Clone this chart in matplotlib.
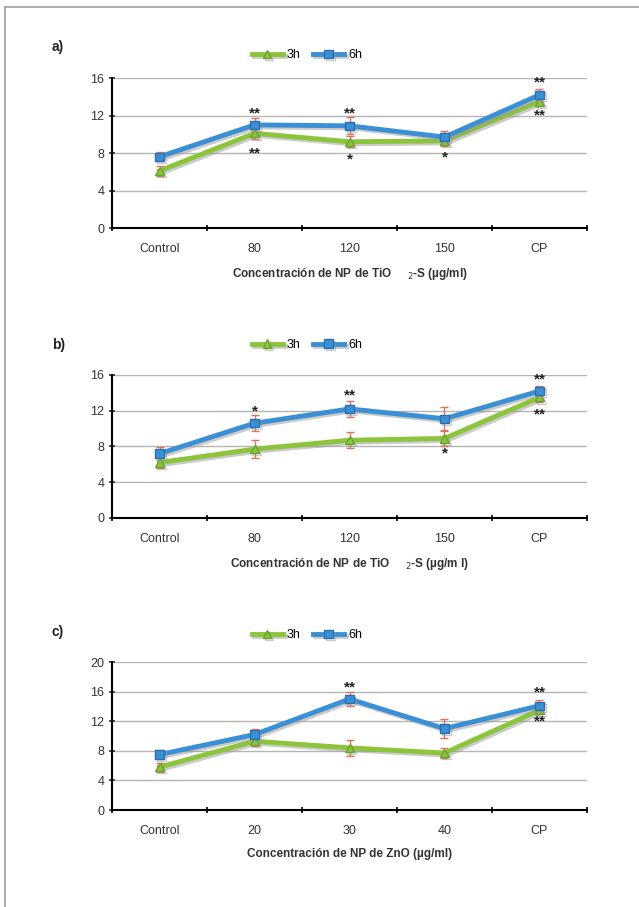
import matplotlib
matplotlib.use("Agg")
import matplotlib.pyplot as plt
import matplotlib.patheffects as pe
from matplotlib.lines import Line2D

plt.rcParams['font.family'] = ['Liberation Sans', 'DejaVu Sans']

# panel a) TiO2-S, first assay
cats_a = ["Control", "80", "120", "150", "CP"]
h3_a = [6.1, 10.1, 9.2, 9.3, 13.5]
h6_a = [7.6, 11.0, 10.9, 9.7, 14.2]
err3_a = [0.5, 0.6, 0.6, 0.5, 0.5]
err6_a = [0.5, 0.7, 0.9, 0.7, 0.6]
stars_a = [(1, 12.6, "**"), (1, 8.4, "**"), (2, 12.6, "**"), (2, 7.7, "*"),
           (3, 7.9, "*"), (4, 15.9, "**"), (4, 12.4, "**")]

# panel b) TiO2-S, second assay
cats_b = ["Control", "80", "120", "150", "CP"]
h3_b = [6.2, 7.7, 8.7, 8.9, 13.5]
h6_b = [7.2, 10.6, 12.2, 11.1, 14.2]
err3_b = [0.6, 1.0, 0.9, 0.8, 0.5]
err6_b = [0.7, 0.9, 0.9, 1.3, 0.6]
stars_b = [(1, 12.3, "*"), (2, 14.1, "**"), (3, 7.6, "*"),
           (4, 15.9, "**"), (4, 12.0, "**")]

# panel c) ZnO
cats_c = ["Control", "20", "30", "40", "CP"]
h3_c = [5.8, 9.3, 8.4, 7.7, 13.5]
h6_c = [7.5, 10.2, 15.0, 11.0, 14.1]
err3_c = [0.6, 0.6, 1.1, 0.7, 0.5]
err6_c = [0.6, 0.7, 1.0, 1.3, 0.8]
stars_c = [(2, 17.0, "**"), (4, 16.3, "**"), (4, 12.3, "**")]

green = "#8cc43c"
blue = "#3b8fd4"
errc = "#e0735f"

fig = plt.figure(figsize=(6.39, 9.07), dpi=100)

# page frame
fig.add_artist(Line2D([5 / 639, 5 / 639], [0, 1 - 7 / 907], color="#a0a0a0", lw=1.2))
fig.add_artist(Line2D([5 / 639, 1], [1 - 7 / 907, 1 - 7 / 907], color="#a0a0a0", lw=1.2))

shadow = [pe.SimpleLineShadow(offset=(1.5, -1.5), shadow_color="#999999", alpha=0.5), pe.Normal()]


def panel(rect, cats, h3, h6, e3, e6, stars, ymax, label, xlabel, leg_y, lab_y):
    ax = fig.add_axes(rect)
    x = list(range(len(cats)))
    ax.errorbar(x, h3, yerr=e3, fmt="none", ecolor=errc, capsize=3, lw=1, zorder=2)
    ax.errorbar(x, h6, yerr=e6, fmt="none", ecolor=errc, capsize=3, lw=1, zorder=2)
    ax.plot(x, h3, color=green, lw=3.5, marker="^", ms=6, mfc=green, mec="#6aa42a",
            label="3h", zorder=3, path_effects=shadow)
    ax.plot(x, h6, color=blue, lw=3.5, marker="s", ms=6, mfc=blue, mec="#2a70b0",
            label="6h", zorder=4, path_effects=shadow)
    for xi, yi, s in stars:
        ax.text(xi, yi - 0.4, s, ha="center", va="center", fontsize=11, fontweight="bold",
                color="#222222")
    ax.set_xlim(-0.5, len(cats) - 0.5)
    ax.set_ylim(0, ymax)
    ax.set_yticks(range(0, ymax + 1, 4))
    ax.set_xticks(x)
    ax.set_xticklabels(cats)
    ax.set_xticks([i - 0.5 for i in range(len(cats) + 1)], minor=True)
    ax.tick_params(axis="x", which="major", length=0, pad=11, labelsize=9, colors="#333333")
    ax.tick_params(axis="x", which="minor", length=4, direction="inout", width=1.2)
    ax.tick_params(axis="y", length=4, direction="inout", width=1.2, labelsize=9, colors="#333333")
    ax.grid(axis="y", color="#b5b5b5", lw=1)
    ax.set_axisbelow(True)
    for s in ["top", "right"]:
        ax.spines[s].set_visible(False)
    ax.spines["left"].set_linewidth(1.5)
    ax.spines["bottom"].set_linewidth(1.5)
    ax.set_xlabel(xlabel, fontsize=8.5, fontweight="bold", color="#333333", labelpad=8)
    ax.legend(loc="center", bbox_to_anchor=(0.41, leg_y), ncol=2, frameon=False,
              fontsize=9, handlelength=2.5, columnspacing=1.0, handletextpad=0.3)
    fig.text(52 / 639, lab_y, label, fontsize=10, fontweight="bold", color="#222222",
             ha="left", va="center")
    return ax


panel([0.1753, 0.7486, 0.7433, 0.1654], cats_a, h3_a, h6_a, err3_a, err6_a, stars_a, 16,
      "a)", "Concentración de NP de TiO     $_2$-S (µg/ml)", 1.15, 1 - 47 / 907)
panel([0.1753, 0.4289, 0.7433, 0.1577], cats_b, h3_b, h6_b, err3_b, err6_b, stars_b, 16,
      "b)", "Concentración de NP de TiO     $_2$-S (µg/m l)", 1.21, 1 - 345 / 907)
panel([0.1753, 0.1069, 0.7433, 0.1632], cats_c, h3_c, h6_c, err3_c, err6_c, stars_c, 20,
      "c)", "Concentración de NP de ZnO (µg/ml)", 1.18, 1 - 632 / 907)

fig.savefig("out.png", dpi=100)
